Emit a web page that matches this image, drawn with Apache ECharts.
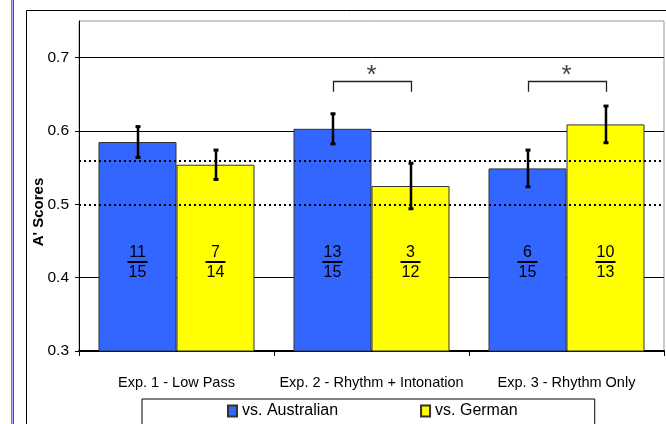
<!DOCTYPE html>
<html>
<head>
<meta charset="utf-8">
<script src="https://cdn.jsdelivr.net/npm/echarts@6/dist/echarts.min.js"></script>
<style>
html,body{margin:0;padding:0;background:#fff;}
#chart{width:666px;height:424px;}
</style>
</head>
<body>
<div id="chart"></div>
<script>
// ---- data ----
var categories = ['Exp. 1 - Low Pass', 'Exp. 2 - Rhythm + Intonation', 'Exp. 3 - Rhythm Only'];
var seriesNames = ['vs. Australian', 'vs. German'];
var australian = [0.585, 0.603, 0.549];
var german = [0.554, 0.525, 0.609];
var australianErr = [0.021, 0.0205, 0.025];
var germanErr = [0.020, 0.031, 0.025];
var australianNum = [11, 13, 6];
var australianDen = [15, 15, 15];
var germanNum = [7, 3, 10];
var germanDen = [14, 12, 13];
var yTicks = [0.3, 0.4, 0.5, 0.6, 0.7];
var refLines = [0.5, 0.556];
// significance brackets: [category index, top value, end value]
var brackets = [[1, 0.668, 0.6536], [2, 0.668, 0.6536]];

var chart = echarts.init(document.getElementById('chart'), null, {renderer: 'canvas'});

function fracLabel(nums, dens) {
  return {
    show: true,
    position: 'insideBottom',
    distance: 70,
    formatter: function (p) {
      return '{n|' + nums[p.dataIndex] + '}\n{b| }\n{d|' + dens[p.dataIndex] + '}';
    },
    rich: {
      n: {fontSize: 16, lineHeight: 15, color: '#000', fontFamily: 'Liberation Sans, Arial', align: 'center'},
      b: {width: 20, height: 2, lineHeight: 3, fontSize: 1, backgroundColor: '#000', align: 'center'},
      d: {fontSize: 16, lineHeight: 18, color: '#000', fontFamily: 'Liberation Sans, Arial', align: 'center'}
    }
  };
}

var errData = [];
for (var i = 0; i < categories.length; i++) {
  errData.push([i, australian[i] - australianErr[i], australian[i] + australianErr[i], 0]);
  errData.push([i, german[i] - germanErr[i], german[i] + germanErr[i], 1]);
}

var option = {
  animation: false,
  backgroundColor: '#fff',
  textStyle: {fontFamily: 'Liberation Sans, Arial'},
  grid: {left: 79, right: 2, top: 21, bottom: 73, show: true, borderColor: '#999', borderWidth: 1, containLabel: false},
  legend: {
    data: seriesNames,
    left: 142, top: 399,
    padding: [4, 77, 6, 85],
    itemGap: 82,
    itemWidth: 9, itemHeight: 11,
    icon: 'rect',
    borderColor: '#000', borderWidth: 1,
    textStyle: {fontSize: 16, color: '#000', fontFamily: 'Liberation Sans, Arial'}
  },
  xAxis: {
    type: 'category',
    data: categories,
    axisLine: {lineStyle: {color: '#000', width: 2}},
    axisTick: {show: true, length: 5, lineStyle: {color: '#000'}},
    axisLabel: {fontSize: 14.5, color: '#000', margin: 24, interval: 0},
    splitLine: {show: false}
  },
  yAxis: {
    type: 'value',
    min: 0.3, max: 0.75, interval: 0.1,
    name: "A' Scores",
    nameLocation: 'middle',
    nameGap: 33,
    nameMoveOverlap: false,
    nameTextStyle: {fontSize: 15, fontWeight: 'bold', color: '#000', padding: [0, 52, 0, 0]},
    axisLine: {show: true, lineStyle: {color: '#000', width: 1}},
    axisTick: {show: true, length: 4, lineStyle: {color: '#000'}},
    axisLabel: {fontSize: 15.5, color: '#000', margin: 10, showMaxLabel: false,
      formatter: function (v) { return v.toFixed(1); }},
    splitLine: {show: true, showMaxLine: false, lineStyle: {color: ['#000', '#000', 'rgba(0,0,0,0)', '#000', '#000', 'rgba(0,0,0,0)'], width: 1}}
  },
  series: [
    {
      name: seriesNames[0], type: 'bar', data: australian,
      barGap: '0%', barCategoryGap: '20%',
      itemStyle: {color: '#3366ff', borderColor: '#333', borderWidth: 1},
      label: fracLabel(australianNum, australianDen)
    },
    {
      name: seriesNames[1], type: 'bar', data: german,
      barGap: '0%', barCategoryGap: '20%',
      itemStyle: {color: '#ffff00', borderColor: '#333', borderWidth: 1},
      label: fracLabel(germanNum, germanDen)
    },
    {
      type: 'custom', name: 'err', data: errData, z: 10,
      renderItem: function (params, api) {
        var cat = api.value(0), lo = api.value(1), hi = api.value(2), s = api.value(3);
        var band = api.size([1, 0])[0];
        var off = (s === 0 ? -0.2 : 0.2) * band;
        var p1 = api.coord([cat, lo]);
        var p2 = api.coord([cat, hi]);
        var x = Math.round(p1[0] + off);
        return {
          type: 'group',
          children: [
            {type: 'line', shape: {x1: x, y1: p1[1], x2: x, y2: p2[1]}, style: {stroke: '#000', lineWidth: 2.5}},
            {type: 'rect', shape: {x: x - 2.5, y: p1[1] - 1.5, width: 5, height: 3}, style: {fill: '#000'}},
            {type: 'rect', shape: {x: x - 2.5, y: p2[1] - 1.5, width: 5, height: 3}, style: {fill: '#000'}}
          ]
        };
      },
      markLine: {
        silent: true, symbol: ['none', 'none'], z: 20,
        label: {show: false},
        lineStyle: {color: '#000', type: [2, 3], width: 2},
        data: refLines.map(function (v) { return {yAxis: v}; })
      }
    },
    {
      type: 'custom', name: 'sig', data: brackets, z: 10,
      renderItem: function (params, api) {
        var cat = api.value(0), top = api.value(1), end = api.value(2);
        var band = api.size([1, 0])[0];
        var pt = api.coord([cat, top]);
        var pe = api.coord([cat, end]);
        var xl = Math.round(pt[0] - 0.2 * band) + 0.5, xr = Math.round(pt[0] + 0.2 * band) + 0.5;
        var yt = Math.round(pt[1]) + 0.5;
        return {
          type: 'group',
          children: [
            {type: 'polyline', shape: {points: [[xl, pe[1]], [xl, yt], [xr, yt], [xr, pe[1]]]}, style: {stroke: '#222', lineWidth: 1.3, fill: null}},
            {type: 'text', style: {x: pt[0], y: yt + 7, text: '*', font: '26px Liberation Sans, Arial', fill: '#444', textAlign: 'center', textVerticalAlign: 'bottom'}}
          ]
        };
      }
    }
  ],
  graphic: [
    {type: 'line', shape: {x1: 26.5, y1: 10.5, x2: 666, y2: 10.5}, style: {stroke: '#000', lineWidth: 1}},
    {type: 'line', shape: {x1: 26.5, y1: 10.5, x2: 26.5, y2: 424}, style: {stroke: '#000', lineWidth: 1}},
    {type: 'line', shape: {x1: 11.5, y1: 0, x2: 11.5, y2: 424}, style: {stroke: '#6f6fff', lineWidth: 1}},
    {type: 'line', shape: {x1: 12.5, y1: 0, x2: 12.5, y2: 424}, style: {stroke: '#b0b0ff', lineWidth: 1}},
    {type: 'line', shape: {x1: 13.5, y1: 0, x2: 13.5, y2: 424}, style: {stroke: '#3a3aff', lineWidth: 1}}
  ]
};
chart.setOption(option);
</script>
</body>
</html>
